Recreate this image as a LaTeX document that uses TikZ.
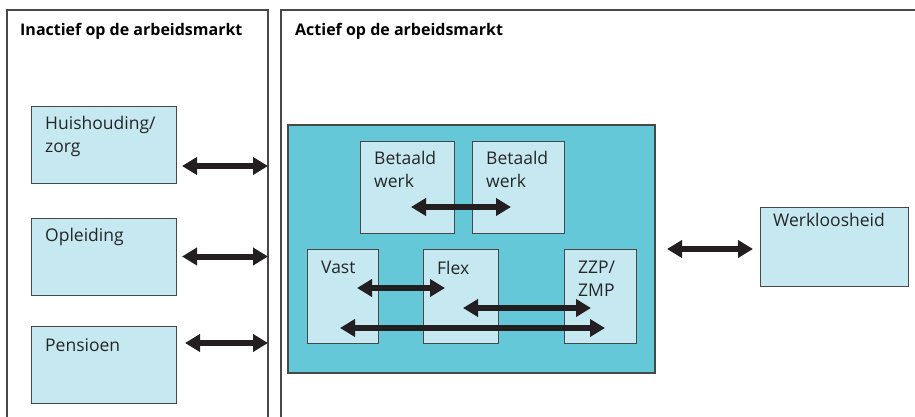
\documentclass[tikz,border=0pt]{standalone}
\usepackage{fontspec}
\setmainfont{Open Sans}
\usetikzlibrary{positioning,arrows.meta}
\definecolor{ink}{RGB}{35,31,32}
\definecolor{frame}{RGB}{72,72,72}
\definecolor{pale}{RGB}{198,232,241}
\definecolor{aqua}{RGB}{100,200,217}

\begin{document}
\begin{tikzpicture}[
  x=1pt, y=-1pt,
  font=\fontsize{17.5}{23}\selectfont,
  panel/.style={draw=frame, line width=1.3pt, anchor=north west, inner sep=0pt,
                outer sep=0pt, minimum height=440pt},
  title/.style={anchor=north west, inner sep=0pt, font=\fontsize{16}{21.5}\selectfont\bfseries},
  box/.style={draw=frame, line width=0.7pt, fill=pale, anchor=north west,
              inner sep=0pt, outer sep=0pt},
  txt/.style={anchor=north west, inner sep=0pt, align=left, text=black!85,
              xshift=14pt, yshift=-10pt},
  tip/.tip={Triangle[length=15pt,width=17pt]},
  ar/.style={tip-tip, draw=ink, line width=6pt},
]
\useasboundingbox (0,0) rectangle (915,417);
\clip (0,0) rectangle (915,417);

% two open panels
\node[panel, minimum width=261pt] (inact) at (7,10) {};
\node[panel, minimum width=660pt] (act)   at (281,10) {};
\node[title] (tinact) at ([xshift=13pt,yshift=-13pt]inact.north west) {Inactief op de arbeidsmarkt};
\node[title] (tact)   at ([xshift=14pt,yshift=-13pt]act.north west) {Actief op de arbeidsmarkt};

% inactive
\node[box, minimum width=145pt, minimum height=77pt,
      label={[txt]north west:Huishouding/\\zorg}] (huis) at (31,106) {};
\node[box, minimum width=145pt, minimum height=77pt,
      label={[txt]north west:Opleiding}] (opl) at (31,218) {};
\node[box, minimum width=145pt, minimum height=77pt,
      label={[txt, yshift=-2pt]north west:Pensioen}] (pens) at (31,326) {};

% active
\node[box, fill=aqua, draw=frame, line width=1.1pt,
      minimum width=367pt, minimum height=248pt] (arb) at (288,125) {};
\node[box, minimum width=94pt, minimum height=92pt,
      label={[txt]north west:Betaald\\werk}] (bw1) at (360,141) {};
\node[box, minimum width=92pt, minimum height=92pt,
      label={[txt]north west:Betaald\\werk}] (bw2) at (472,141) {};
\node[box, minimum width=71pt, minimum height=94pt,
      label={[txt, yshift=-2pt]north west:Vast}] (vast) at (307,249) {};
\node[box, minimum width=75pt, minimum height=94pt,
      label={[txt, yshift=-2pt]north west:Flex}] (flex) at (423,249) {};
\node[box, minimum width=72pt, minimum height=94pt,
      label={[txt, yshift=-2pt]north west:ZZP/\\ZMP}] (zzp) at (564,249) {};

\node[box, minimum width=148pt, minimum height=79pt,
      label={[txt, xshift=-1pt, yshift=4pt]north west:Werkloosheid}] (wkl) at (760,207) {};

% transitions
\draw[ar] ([xshift=6pt,yshift=17pt]huis.south east) coordinate (h1) -- (h1 -| inact.east);
\draw[ar] ([xshift=6pt]opl.east) coordinate (o1) -- (o1 -| inact.east);
\draw[ar] ([xshift=9pt,yshift=-17pt]pens.north east) coordinate (p1) -- (p1 -| inact.east);

\draw[ar] ([xshift=-43pt,yshift=26pt]bw1.south east) -- ([xshift=39pt,yshift=26pt]bw2.south west);
\draw[ar] ([xshift=-21pt,yshift=55pt]vast.south east) -- ([xshift=22pt,yshift=55pt]flex.south west);
\draw[ar] ([xshift=40pt,yshift=35pt]flex.south west) -- ([xshift=27pt,yshift=35pt]zzp.south west);
\draw[ar] ([xshift=33pt,yshift=15pt]vast.south west) -- ([xshift=41pt,yshift=15pt]zzp.south west);

\draw[ar] ([xshift=12pt]arb.east) -- ([xshift=-7pt,yshift=-2.5pt]wkl.west);

\end{tikzpicture}
\end{document}
